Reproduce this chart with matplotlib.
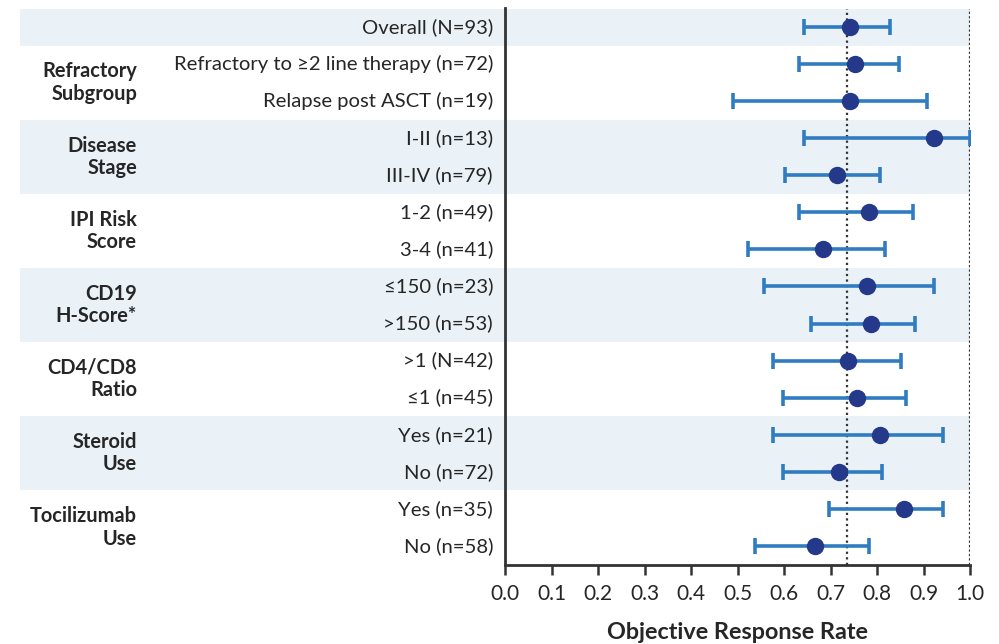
import matplotlib
matplotlib.use("Agg")
import matplotlib.pyplot as plt
import matplotlib.transforms as mtransforms
from matplotlib.patches import Rectangle

plt.rcParams["font.family"] = ["Lato", "DejaVu Sans"]

# ── data ──────────────────────────────────────────────
groups = ["", "Refractory\nSubgroup", "Disease\nStage", "IPI Risk\nScore",
          "CD19\nH-Score*", "CD4/CD8\nRatio", "Steroid\nUse", "Tocilizumab\nUse"]
group_rows = [[0], [1, 2], [3, 4], [5, 6], [7, 8], [9, 10], [11, 12], [13, 14]]
subgroups = [
    "Overall (N=93)",
    "Refractory to ≥2 line therapy (n=72)", "Relapse post ASCT (n=19)",
    "I-II (n=13)", "III-IV (n=79)",
    "1-2 (n=49)", "3-4 (n=41)",
    "≤150 (n=23)", ">150 (n=53)",
    ">1 (N=42)", "≤1 (n=45)",
    "Yes (n=21)", "No (n=72)",
    "Yes (n=35)", "No (n=58)",
]
orr = [0.742, 0.753, 0.742, 0.923, 0.713, 0.783, 0.683, 0.778, 0.787,
       0.738, 0.757, 0.806, 0.718, 0.857, 0.667]
ci_low = [0.642, 0.632, 0.491, 0.642, 0.602, 0.632, 0.522, 0.557, 0.657,
          0.577, 0.597, 0.577, 0.597, 0.697, 0.538]
ci_high = [0.828, 0.847, 0.907, 1.0, 0.806, 0.877, 0.817, 0.923, 0.882,
           0.852, 0.863, 0.943, 0.811, 0.943, 0.783]
ref_line = 0.735
shaded = [True, False, True, False, True, False, True, False]

BAND = "#EAF2F8"
BAR = "#2F7CC2"
DOT = "#24398A"
TXT = "#262626"

fig = plt.figure(figsize=(9.99, 6.44), dpi=100)
ax = fig.add_axes([505 / 999, 1 - 564.5 / 644, 465 / 999, 556 / 644])

rows = list(range(len(subgroups)))
ax.set_xlim(0, 1.0)
ax.set_ylim(len(subgroups) - 0.5, -0.5)

trans = mtransforms.blended_transform_factory(fig.transFigure, ax.transData)

# shaded bands, reaching out past the axes to the left
for rws, sh in zip(group_rows, shaded):
    if sh:
        top = rws[0] - 0.5
        h = len(rws)
        ax.add_patch(Rectangle((20 / 999, top), 950 / 999, h, transform=trans,
                               facecolor=BAND, edgecolor="none", clip_on=False, zorder=0))

ax.axvline(ref_line, color="#333333", linestyle=(0, (1, 1.5)), linewidth=1.6, zorder=1)
ax.axvline(1.0, color="#333333", linestyle=(0, (1, 1)), linewidth=1.6, zorder=1)

err_lo = [o - l for o, l in zip(orr, ci_low)]
err_hi = [h - o for o, h in zip(orr, ci_high)]
ax.errorbar(orr, rows, xerr=[err_lo, err_hi], fmt="none", ecolor=BAR,
            elinewidth=2.6, capsize=6, capthick=2.6, zorder=2)
ax.plot(orr, rows, "o", color=DOT, markersize=11.5, zorder=3)

# labels
for r, name in zip(rows, subgroups):
    ax.text(493 / 999, r, name, transform=trans, ha="right", va="center",
            fontsize=14.6, color=TXT)
for g, rws in zip(groups, group_rows):
    if g:
        ax.text(137 / 999, sum(rws) / len(rws), g, transform=trans, ha="right",
                va="center", fontsize=14.4, fontweight="bold", color=TXT,
                linespacing=1.15)

for s in ["top", "right"]:
    ax.spines[s].set_visible(False)
ax.spines["left"].set_linewidth(2)
ax.spines["left"].set_color("#333333")
ax.spines["bottom"].set_linewidth(2)
ax.spines["bottom"].set_color("#333333")
ax.set_yticks([])
ax.set_xticks([i / 10 for i in range(11)])
ax.set_xticklabels([f"{i / 10:.1f}" for i in range(11)], fontsize=15, color=TXT)
ax.tick_params(axis="x", length=7, width=1.8, color="#333333", pad=7)
ax.set_xlabel("Objective Response Rate", fontsize=16.8, fontweight="bold",
              color=TXT, labelpad=13)

fig.savefig("out.png", dpi=100)
